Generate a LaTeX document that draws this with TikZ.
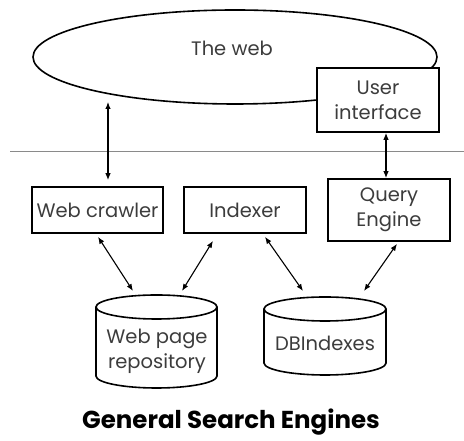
\documentclass[tikz,border=0pt]{standalone}
\usepackage{fontspec}
\setmainfont{Poppins}
\usetikzlibrary{arrows.meta,shapes.geometric}
\definecolor{txt}{HTML}{3C3C3C}
\definecolor{rule}{HTML}{8A8A8A}
\begin{document}
\begin{tikzpicture}[x=1pt,y=1pt,
  lbl/.style={align=center, text=txt, inner sep=0pt, font=\fontsize{19.5}{25}\selectfont},
  box/.style={lbl, draw=black, line width=1.7pt, fill=white},
  cyl/.style={line width=1.6pt},
  link/.style={{Latex[length=7pt,width=5.5pt]}-{Latex[length=7pt,width=5.5pt]}, line width=1.1pt}]
\useasboundingbox (0,0) rectangle (464,441);
% the web
\node[draw, ellipse, line width=1.6pt, minimum width=404pt, minimum height=94pt, inner sep=0pt] (web) at (235,384) {};
\node[lbl] (webtxt) at (232,393) {The web};
\node[box, minimum width=122pt, minimum height=64pt] (ui) at (378,341) {User\\interface};
% separator
\coordinate (ruleL) at (10,290);
\coordinate (ruleR) at (464,290);
\draw[rule, line width=0.8pt] (ruleL) -- (ruleR);
% components
\node[box, minimum width=131pt, minimum height=46pt] (crawler) at (97.5,231) {Web crawler};
\node[box, minimum width=122pt, minimum height=46pt] (indexer) at (245,231) {Indexer};
\node[box, minimum width=122pt, minimum height=62pt] (qe) at (389,231) {Query\\Engine};
% cylinders
\draw[cyl] (96,134) -- (96,65) arc[start angle=180, end angle=360, x radius=60.5pt, y radius=12pt] -- (217,134);
\draw[cyl] (156.5,134) ellipse[x radius=60.5pt, y radius=12pt];
\draw[cyl] (264,132) -- (264,78) arc[start angle=180, end angle=360, x radius=61pt, y radius=12pt] -- (386,132);
\draw[cyl] (325,132) ellipse[x radius=61pt, y radius=12pt];
\coordinate (repotop) at (156.5,146);
\coordinate (dbitop) at (325,144);
\node[lbl] (repo) at (157,90) {Web page\\repository};
\node[lbl] (dbi) at (325,98) {DBIndexes};
% connectors
\coordinate (webfoot) at (108,339);
\draw[link] (webfoot) -- ([xshift=10.5pt,yshift=6pt]crawler.north);
\draw[link] ([xshift=8pt]ui.south) -- ([xshift=-3pt]qe.north);
\draw[link] ([xshift=0.5pt,yshift=-3pt]crawler.south) -- ([xshift=-23.5pt,yshift=4pt]repotop);
\draw[link] ([xshift=-32pt,yshift=-7pt]indexer.south) -- ([xshift=25.5pt,yshift=4pt]repotop);
\draw[link] ([xshift=20pt,yshift=-3pt]indexer.south) -- ([xshift=-22pt,yshift=6pt]dbitop);
\draw[link] ([xshift=8pt,yshift=-2pt]qe.south) -- ([xshift=39pt,yshift=6pt]dbitop);
% title
\node[inner sep=0pt, font=\fontsize{24.5}{28}\selectfont\bfseries] (title) at (231,19) {General Search Engines};
\end{tikzpicture}
\end{document}
